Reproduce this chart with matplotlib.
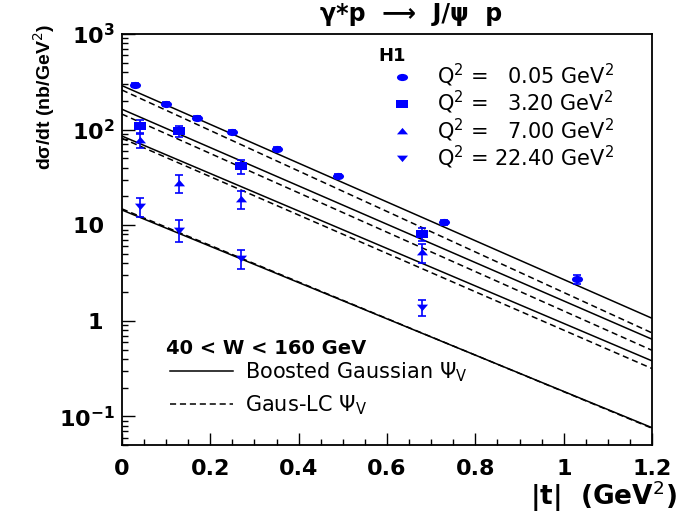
import numpy as np
import matplotlib
matplotlib.use('Agg')
from matplotlib import pyplot as plt
from matplotlib.path import Path
from matplotlib.lines import Line2D
from matplotlib.ticker import MultipleLocator, LogLocator, NullFormatter

plt.rcParams['font.family'] = ['DejaVu Sans']
plt.rcParams['mathtext.fontset'] = 'dejavusans'

# H1 data, |t| in GeV^2, dsigma/dt in nb/GeV^2
t_q005 = [0.03, 0.10, 0.17, 0.25, 0.35, 0.49, 0.73, 1.03]
xs_q005 = [292, 185, 132, 94, 62.5, 32.6, 10.7, 2.72]
err_q005 = [12, 8, 5, 4, 2.5, 1.5, 0.7, 0.28]

t_q320 = [0.04, 0.13, 0.27, 0.68]
xs_q320 = [109, 96, 41.5, 8.05]
err_q320 = [18, 13, 7, 1.2]

t_q700 = [0.04, 0.13, 0.27, 0.68]
xs_q700 = [77.5, 27.5, 18.7, 5.2]
err_q700 = [13, 6, 4, 1.2]

t_q2240 = [0.04, 0.13, 0.27, 0.68]
xs_q2240 = [15.8, 8.9, 4.5, 1.38]
err_q2240 = [3.5, 2.3, 1.0, 0.27]

# model predictions at the ends of the |t| range
t_model = [0.0, 1.2]
bg_q005 = [288, 1.06]
bg_q320 = [163, 0.64]
bg_q700 = [85.5, 0.38]
bg_q2240 = [14.4, 0.076]
lc_q005 = [259, 0.745]
lc_q320 = [145, 0.49]
lc_q700 = [81, 0.316]
lc_q2240 = [14.8, 0.075]

q2_labels = ['Q$^2$ = \u20070.05 GeV$^2$', 'Q$^2$ = \u20073.20 GeV$^2$',
             'Q$^2$ = \u20077.00 GeV$^2$', 'Q$^2$ = 22.40 GeV$^2$']
x_ticks = [0, 0.2, 0.4, 0.6, 0.8, 1.0, 1.2]
x_ticklabels = ['0', '0.2', '0.4', '0.6', '0.8', '1', '1.2']
y_ticks = [0.1, 1, 10, 100, 1000]
y_ticklabels = [r'$\mathbf{10^{-1}}$', '1\u2002', '10\u2002',
                r'$\mathbf{10^{2}}$', r'$\mathbf{10^{3}}$']


def wide_marker(verts, codes=None, aspect=1.55):
    v = np.asarray(verts, dtype=float) * [aspect, 1.0]
    return Path(v, codes)


circ = Path.unit_circle()
m_circle = wide_marker(circ.vertices, circ.codes)
m_square = wide_marker([(-1, -1), (1, -1), (1, 1), (-1, 1), (-1, -1)],
                       [Path.MOVETO, Path.LINETO, Path.LINETO, Path.LINETO, Path.CLOSEPOLY])
m_up = wide_marker([(-1, -0.8), (1, -0.8), (0, 1), (-1, -0.8)],
                   [Path.MOVETO, Path.LINETO, Path.LINETO, Path.CLOSEPOLY])
m_down = wide_marker([(-1, 0.8), (1, 0.8), (0, -1), (-1, 0.8)],
                     [Path.MOVETO, Path.LINETO, Path.LINETO, Path.CLOSEPOLY])

fig = plt.figure(figsize=(6.85, 5.14), dpi=100)
ax = fig.add_axes([0.178, 0.134, 0.774, 0.800])
ax.set_yscale('log')

dash = (0, (4, 2.5))
for bg, lc in [(bg_q005, lc_q005), (bg_q320, lc_q320),
               (bg_q700, lc_q700), (bg_q2240, lc_q2240)]:
    ax.plot(t_model, bg, color='black', lw=1.1)
    ax.plot(t_model, lc, color='black', lw=1.1, linestyle=dash)

series = [(t_q005, xs_q005, err_q005, m_circle),
          (t_q320, xs_q320, err_q320, m_square),
          (t_q700, xs_q700, err_q700, m_up),
          (t_q2240, xs_q2240, err_q2240, m_down)]
for t, xs, err, mk in series:
    ax.errorbar(t, xs, yerr=err, fmt='none', ecolor='blue',
                elinewidth=1.2, capsize=3, capthick=1.2)
    ax.plot(t, xs, linestyle='none', marker=mk, ms=8,
            color='blue', markeredgewidth=0)

ax.set_xlim(0, 1.2)
ax.set_ylim(0.05, 1000)

ax.set_xticks(x_ticks)
ax.set_xticklabels(x_ticklabels, fontsize=16, fontweight='bold')
ax.xaxis.set_minor_locator(MultipleLocator(0.05))
ax.set_yticks(y_ticks)
ax.set_yticklabels(y_ticklabels, fontsize=16, fontweight='bold')
ax.yaxis.set_minor_locator(LogLocator(base=10, subs=np.arange(2, 10)))
ax.yaxis.set_minor_formatter(NullFormatter())

ax.tick_params(which='both', direction='in', top=False, right=False, width=1)
ax.tick_params(which='major', length=9)
ax.tick_params(which='minor', length=4.5)
ax.tick_params(axis='x', which='major', pad=10)
ax.tick_params(axis='y', which='major', pad=5)
for sp in ax.spines.values():
    sp.set_linewidth(1.3)

fig.text(411 / 685, 1 - 14 / 514, 'γ*p  ⟶  J/ψ  p', fontsize=17,
         fontweight='bold', ha='center', va='center')
fig.text(44 / 685, 1 - 24 / 514, 'dσ/dt (nb/GeV$^2$)', fontsize=14,
         family=['Liberation Sans', 'DejaVu Sans'],
         fontweight='bold', rotation=90, ha='center', va='top')
fig.text(677 / 685, 1 - 496 / 514, '|t|  (GeV$^2$)', fontsize=19,
         fontweight='bold', ha='right', va='center')

# data legend
fig.text(378 / 685, 1 - 56 / 514, 'H1', fontsize=13, fontweight='bold',
         ha='left', va='center')
handles = [Line2D([], [], linestyle='none', marker=mk, ms=8, color='blue',
                  markeredgewidth=0) for _, _, _, mk in series]
leg1 = ax.legend(handles, q2_labels, loc='upper left',
                 bbox_to_anchor=(393 / 685, 1 - 62 / 514),
                 bbox_transform=fig.transFigure, frameon=False, fontsize=15,
                 borderpad=0, borderaxespad=0, handlelength=0.9,
                 handletextpad=1.2, labelspacing=0.0)
ax.add_artist(leg1)

# model legend
fig.text(166 / 685, 1 - 349 / 514, '40 < W < 160 GeV', fontsize=14,
         fontweight='bold', ha='left', va='center')
line_handles = [Line2D([], [], color='black', lw=1.1),
                Line2D([], [], color='black', lw=1.1, linestyle=dash)]
ax.legend(line_handles, [r'Boosted Gaussian $\Psi_{\rm V}$', r'Gaus-LC $\Psi_{\rm V}$'],
          loc='upper left', bbox_to_anchor=(170 / 685, 1 - 360 / 514),
          bbox_transform=fig.transFigure, frameon=False, fontsize=15,
          borderpad=0, borderaxespad=0, handlelength=3.0,
          handletextpad=0.6, labelspacing=0.45)

fig.savefig('out.png', dpi=100)
